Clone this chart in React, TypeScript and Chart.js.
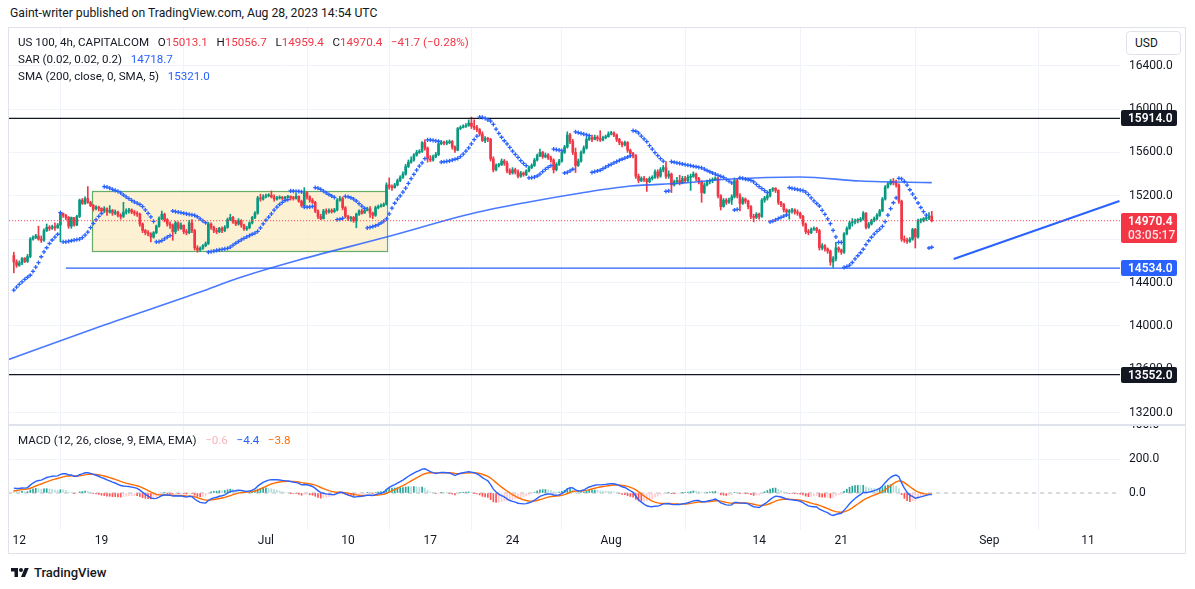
import React, { useEffect, useRef } from "react";
import { Chart, registerables } from "chart.js";

Chart.register(...registerables);

const FONT = "Roboto, 'Noto Sans', sans-serif";

// ---------- candle data (US 100, 4h, CAPITALCOM) ----------
const firstOpen = 14650;
const closes = [
  14590, 14560,
  14580, 14625, 14595, 14640, 14800, 14815,
  14830, 14800, 14790, 14880, 14910, 14900,
  14915, 14905, 14930, 15040, 15020, 15000,
  14920, 15000, 14930, 15010, 15160, 15130,
  15175, 15140, 15110, 15080, 15095, 15085,
  15060, 15080, 15050, 15065, 15040, 15050,
  15020, 15010, 15050, 15060, 15070, 15050,
  15040, 15030, 14940, 14880, 14860, 14850,
  14820, 14860, 14920, 14990, 15030, 14980,
  14940, 14930, 14870, 14950, 14900, 14930,
  14870, 14860, 14950, 14880, 14720, 14700,
  14715, 14740, 14760, 14940, 14910, 14880,
  14870, 14900, 14880, 14910, 14980, 15000,
  14960, 14940, 14970, 14930, 14895, 14905,
  14950, 15000, 15040, 15180, 15170, 15190,
  15200, 15205, 15190, 15170, 15180, 15185,
  15175, 15185, 15195, 15180, 15175, 15195,
  15150, 15110, 15230, 15190, 15160, 15140,
  15060, 15010, 14990, 15060, 15050, 15065,
  15055, 15070, 15160, 15175, 15090, 15010,
  14990, 15000, 14970, 15030, 15060, 15040,
  15065, 15080, 15040, 15020, 15090, 15100,
  15110, 15120, 15300, 15280, 15275, 15300,
  15340, 15370, 15400, 15470, 15510, 15530,
  15575, 15600, 15610, 15690, 15640, 15540,
  15530, 15560, 15580, 15680, 15695, 15685,
  15690, 15700, 15650, 15620, 15820, 15830,
  15840, 15850, 15870, 15840, 15830, 15810,
  15770, 15710, 15730, 15720, 15540, 15440,
  15480, 15485, 15520, 15500, 15430, 15410,
  15440, 15420, 15380, 15410, 15395, 15430,
  15460, 15480, 15530, 15570, 15600, 15560,
  15575, 15550, 15530, 15440, 15490, 15520,
  15600, 15650, 15760, 15700, 15600, 15480,
  15520, 15600, 15640, 15720, 15735, 15720,
  15740, 15725, 15715, 15735, 15745, 15770,
  15780, 15760, 15720, 15690, 15670, 15690,
  15620, 15590, 15570, 15380, 15340, 15360,
  15350, 15330, 15360, 15370, 15420, 15380,
  15440, 15460, 15380, 15400, 15300, 15330,
  15340, 15320, 15360, 15340, 15370, 15380,
  15400, 15360, 15330, 15230, 15300, 15330,
  15340, 15350, 15360, 15200, 15100, 15160,
  15140, 15160, 15190, 15340, 15200, 15130,
  15170, 15150, 15100, 15010, 15000, 15030,
  15010, 15160, 15180, 15200, 15260, 15270,
  15250, 15140, 15120, 15070, 15050, 15060,
  15070, 15050, 15040, 15010, 14940, 14870,
  14860, 14890, 14900, 14880, 14720, 14740,
  14710, 14690, 14590, 14620, 14720, 14700,
  14680, 14850, 14900, 14950, 14960, 14970,
  14975, 14985, 15040, 14910, 14940, 14970,
  14990, 15020, 15060, 15170, 15280, 15310,
  15335, 15320, 15300, 15150, 14800, 14790,
  14780, 14800, 14890, 14820, 14970, 14975,
  14990, 14995, 15013.1, 14970.4,
];
const highs = [
  14680, 14610,
  14600, 14630, 14630, 14660, 14815, 14830,
  14845, 14920, 14830, 14895, 14940, 14925,
  14930, 14950, 14945, 15045, 15040, 15030,
  15010, 15005, 15000, 15020, 15170, 15175,
  15190, 15285, 15150, 15120, 15110, 15105,
  15090, 15100, 15090, 15110, 15075, 15070,
  15060, 15035, 15140, 15080, 15085, 15080,
  15065, 15055, 15040, 14950, 14890, 14880,
  14860, 14870, 14930, 15005, 15060, 15040,
  14990, 14960, 14940, 14965, 14960, 14950,
  14930, 14890, 14975, 14980, 14890, 14740,
  14730, 14750, 14775, 14955, 14950, 14920,
  14900, 14910, 14915, 14925, 14995, 15030,
  15010, 14975, 14990, 14980, 14940, 14920,
  14960, 15010, 15055, 15195, 15215, 15210,
  15215, 15220, 15245, 15210, 15195, 15200,
  15195, 15195, 15205, 15200, 15195, 15220,
  15200, 15160, 15275, 15240, 15200, 15175,
  15150, 15070, 15030, 15075, 15080, 15080,
  15080, 15085, 15175, 15195, 15190, 15100,
  15020, 15010, 15010, 15040, 15070, 15075,
  15080, 15095, 15100, 15050, 15105, 15115,
  15125, 15135, 15320, 15365, 15300, 15315,
  15355, 15385, 15420, 15490, 15530, 15560,
  15590, 15620, 15625, 15700, 15715, 15650,
  15570, 15575, 15600, 15695, 15710, 15705,
  15710, 15715, 15710, 15660, 15830, 15845,
  15855, 15865, 15900, 15926, 15900, 15850,
  15820, 15790, 15745, 15740, 15730, 15560,
  15495, 15500, 15540, 15535, 15520, 15450,
  15460, 15455, 15440, 15425, 15420, 15440,
  15475, 15495, 15545, 15585, 15630, 15610,
  15595, 15590, 15565, 15540, 15505, 15535,
  15615, 15665, 15790, 15775, 15720, 15640,
  15540, 15615, 15660, 15740, 15750, 15760,
  15760, 15755, 15800, 15750, 15760, 15790,
  15795, 15790, 15770, 15730, 15700, 15705,
  15700, 15630, 15600, 15580, 15400, 15375,
  15380, 15360, 15375, 15385, 15440, 15440,
  15460, 15480, 15515, 15430, 15410, 15345,
  15370, 15390, 15380, 15380, 15390, 15400,
  15420, 15410, 15370, 15340, 15320, 15345,
  15355, 15365, 15375, 15370, 15210, 15175,
  15175, 15180, 15210, 15365, 15360, 15220,
  15185, 15180, 15160, 15110, 15030, 15045,
  15040, 15175, 15195, 15215, 15260, 15275,
  15275, 15255, 15150, 15130, 15080, 15075,
  15085, 15080, 15070, 15050, 15020, 14950,
  14890, 14905, 14915, 14910, 14890, 14760,
  14750, 14720, 14700, 14640, 14770, 14730,
  14710, 14860, 14915, 14965, 14990, 14985,
  14990, 15000, 15055, 15045, 14955, 14985,
  15005, 15035, 15075, 15185, 15295, 15325,
  15350, 15360, 15345, 15310, 15160, 14830,
  14810, 14815, 14900, 14900, 14985, 14990,
  15000, 15010, 15045, 15056.7,
];
const lows = [
  14490, 14540,
  14550, 14565, 14585, 14585, 14630, 14790,
  14805, 14790, 14770, 14780, 14870, 14880,
  14890, 14880, 14900, 14775, 15000, 14980,
  14900, 14900, 14920, 14925, 15000, 15120,
  15120, 15130, 15100, 15060, 15070, 15060,
  15040, 15045, 15020, 15040, 15020, 15025,
  15005, 14985, 15000, 15030, 15040, 15035,
  15020, 15010, 14920, 14860, 14840, 14830,
  14775, 14810, 14850, 14910, 14980, 14960,
  14920, 14900, 14790, 14850, 14880, 14890,
  14850, 14840, 14850, 14860, 14700, 14680,
  14690, 14705, 14730, 14750, 14890, 14860,
  14850, 14860, 14860, 14870, 14900, 14970,
  14945, 14925, 14930, 14910, 14880, 14880,
  14895, 14940, 14990, 15030, 15150, 15160,
  15180, 15190, 15180, 15150, 15160, 15170,
  15165, 15170, 15180, 15160, 15160, 15170,
  15140, 15095, 15100, 15170, 15140, 15130,
  15045, 14990, 14980, 14985, 15030, 15040,
  15040, 15045, 15060, 15150, 15070, 14995,
  14970, 14965, 14955, 14905, 15020, 15030,
  15040, 15060, 15000, 14990, 15010, 15080,
  15095, 15100, 15115, 15260, 15250, 15270,
  15290, 15330, 15360, 15390, 15460, 15500,
  15520, 15565, 15590, 15600, 15620, 15510,
  15515, 15520, 15550, 15570, 15670, 15670,
  15670, 15680, 15630, 15600, 15615, 15810,
  15825, 15830, 15840, 15820, 15810, 15790,
  15750, 15700, 15690, 15700, 15520, 15420,
  15430, 15465, 15480, 15480, 15410, 15395,
  15400, 15400, 15365, 15370, 15380, 15385,
  15420, 15450, 15470, 15520, 15560, 15545,
  15550, 15535, 15510, 15410, 15430, 15480,
  15510, 15590, 15640, 15680, 15580, 15415,
  15470, 15510, 15590, 15630, 15710, 15700,
  15715, 15705, 15700, 15705, 15725, 15740,
  15760, 15745, 15700, 15670, 15650, 15660,
  15600, 15570, 15550, 15360, 15320, 15330,
  15330, 15240, 15320, 15345, 15360, 15360,
  15370, 15420, 15360, 15360, 15230, 15290,
  15310, 15300, 15310, 15320, 15330, 15250,
  15370, 15340, 15310, 15140, 15220, 15290,
  15310, 15320, 15340, 15180, 15069, 15095,
  15120, 15130, 15120, 15180, 15180, 15060,
  15120, 15130, 15080, 14990, 14960, 14990,
  14985, 15000, 15140, 15160, 15190, 15240,
  15230, 15120, 15100, 15050, 15030, 14985,
  15040, 15030, 15020, 14990, 14920, 14850,
  14840, 14850, 14880, 14860, 14700, 14700,
  14690, 14670, 14560, 14540, 14600, 14680,
  14660, 14670, 14840, 14890, 14920, 14940,
  14950, 14960, 14975, 14895, 14900, 14930,
  14960, 14980, 15010, 15055, 15160, 15270,
  15300, 15300, 15280, 15130, 14780, 14770,
  14760, 14770, 14790, 14719, 14810, 14950,
  14960, 14970, 14980, 14959.4,
];

// ---------- axes ----------
const dateTickBars = [2, 32, 92, 122, 152, 182, 218, 272, 302, 356, 392];
const dateTickLabels = ["12", "19", "Jul", "10", "17", "24", "Aug", "14", "21", "Sep", "11"];
const priceTicks = [13200, 13600, 14000, 14400, 14800, 15200, 15600, 16000, 16400];
const macdTicks = [0, 200, 400];
const priceRange = [13087.4, 16746.6];
const macdRange = [-217.6, 400];
const barRange = [-1.76, 403.7];

// ---------- SMA 200 ----------
const smaBars = [-3, 32, 68, 82, 104, 136, 168, 188, 207, 225, 243, 262, 287, 309, 335];
const smaValues = [13680, 14000, 14313, 14442, 14608, 14820, 15041, 15143, 15226, 15290, 15315, 15355, 15373, 15336, 15321];

// ---------- drawings ----------
const resistanceTop = 15914.0;
const supportMid = 14534.0;
const supportLow = 13552.0;
const lastPrice = 14970.4;
const countdown = "03:05:17";
const midLineStartBar = 19;
const boxBars = [28.5, 136];
const boxPrices = [15244, 14691];
const trendBars = [343, 403.5];
const trendPrices = [14617, 15152];

// ---------- indicator settings ----------
const sarParams = [0.02, 0.02, 0.2];
const sarSeed = { sar: 14330, ep: 14680, af: 0.08 };
const macdSeeds = { fast: 14561, slow: 14532, signal: 12 };

const UP = "#089981";
const DOWN = "#f23645";
const BLUE = "#2962ff";
const ORANGE = "#ff6d00";
const GRID = "#f0f3fa";
const TEXT = "#131722";

const opens = closes.map((c, i) => (i === 0 ? firstOpen : closes[i - 1]));

function parabolicSar(h: number[], l: number[]) {
  const [start, inc, max] = sarParams;
  const out: number[] = [];
  let sar = sarSeed.sar;
  let ep = sarSeed.ep;
  let af = sarSeed.af;
  let below = true;
  out.push(sar);
  for (let i = 1; i < h.length; i++) {
    let first = false;
    sar = sar + af * (ep - sar);
    if (below) {
      if (sar > l[i]) {
        first = true;
        below = false;
        sar = Math.max(h[i], ep);
        ep = l[i];
        af = start;
      }
    } else if (sar < h[i]) {
      first = true;
      below = true;
      sar = Math.min(l[i], ep);
      ep = h[i];
      af = start;
    }
    if (!first) {
      if (below) {
        if (h[i] > ep) {
          ep = h[i];
          af = Math.min(af + inc, max);
        }
      } else if (l[i] < ep) {
        ep = l[i];
        af = Math.min(af + inc, max);
      }
    }
    if (below) {
      sar = Math.min(sar, l[i - 1]);
      if (i > 1) sar = Math.min(sar, l[i - 2]);
    } else {
      sar = Math.max(sar, h[i - 1]);
      if (i > 1) sar = Math.max(sar, h[i - 2]);
    }
    out.push(sar);
  }
  return out;
}

function macdSeries(c: number[]) {
  let f = macdSeeds.fast;
  let s = macdSeeds.slow;
  let sg = macdSeeds.signal;
  const m: number[] = [];
  const sig: number[] = [];
  c.forEach((v, i) => {
    if (i > 0) {
      f += (2 / 13) * (v - f);
      s += (2 / 27) * (v - s);
    }
    const mv = f - s;
    if (i > 0) sg += 0.2 * (mv - sg);
    m.push(mv);
    sig.push(sg);
  });
  const hist = m.map((v, i) => v - sig[i]);
  return { m, sig, hist };
}

const badgePlugin = {
  id: "badges",
  afterDraw(chart: any) {
    const badges = chart.options.plugins.badges?.items;
    if (!badges) return;
    const { ctx, chartArea } = chart;
    const y = chart.scales.y;
    ctx.save();
    badges.forEach((b: any) => {
      const py = Math.round(y.getPixelForValue(b.value));
      const left = chartArea.right + 1;
      const h = b.sub ? 30 : 16;
      ctx.fillStyle = b.bg;
      ctx.beginPath();
      (ctx as any).roundRect(left, py - 8, 56, h, 2);
      ctx.fill();
      ctx.fillStyle = "#ffffff";
      ctx.font = `600 12px ${FONT}`;
      ctx.textBaseline = "middle";
      ctx.textAlign = "left";
      ctx.fillText(b.value.toFixed(1), left + 7, py + 0.5);
      if (b.sub) {
        ctx.fillStyle = "rgba(255,255,255,0.85)";
        ctx.font = `500 12px ${FONT}`;
        ctx.fillText(b.sub, left + 7, py + 14.5);
      }
    });
    ctx.restore();
  },
};

const boxPlugin = {
  id: "rangeBox",
  beforeDatasetsDraw(chart: any) {
    const opt = chart.options.plugins.rangeBox;
    if (!opt) return;
    const { ctx, chartArea } = chart;
    const xs = chart.scales.x;
    const ys = chart.scales.y;
    const x1 = xs.getPixelForValue(opt.bars[0]);
    const x2 = xs.getPixelForValue(opt.bars[1]);
    const y1 = ys.getPixelForValue(opt.prices[0]);
    const y2 = ys.getPixelForValue(opt.prices[1]);
    ctx.save();
    ctx.beginPath();
    ctx.rect(chartArea.left, chartArea.top, chartArea.right - chartArea.left, chartArea.bottom - chartArea.top);
    ctx.clip();
    ctx.fillStyle = "rgba(252, 236, 196, 0.75)";
    ctx.fillRect(x1, y1, x2 - x1, y2 - y1);
    ctx.strokeStyle = "rgba(76, 160, 80, 0.85)";
    ctx.lineWidth = 1.2;
    ctx.strokeRect(Math.round(x1) + 0.5, Math.round(y1) + 0.5, Math.round(x2 - x1), Math.round(y2 - y1));
    ctx.restore();
  },
};

function hLine(value: number, fromBar: number, color: string, width: number, dash: number[] = [], order = 5) {
  return {
    type: "line",
    data: [
      { x: fromBar, y: value },
      { x: 420, y: value },
    ],
    borderColor: color,
    borderWidth: width,
    borderDash: dash,
    pointRadius: 0,
    order,
  };
}

const noPad = (s: any) => {
  s.paddingTop = 0;
  s.paddingBottom = 0;
  s.paddingLeft = 0;
  s.paddingRight = 0;
};

export default function App() {
  const mainRef = useRef<HTMLCanvasElement>(null);
  const macdRef = useRef<HTMLCanvasElement>(null);

  useEffect(() => {
    const idx = closes.map((_, i) => i);
    const colors = idx.map((i) => (closes[i] >= opens[i] ? UP : DOWN));
    const sar = parabolicSar(highs, lows);
    const { m, sig, hist } = macdSeries(closes);
    const histColors = hist.map((v, i) => {
      const prev = i > 0 ? hist[i - 1] : v;
      if (v >= 0) return prev < v ? "#26a69a" : "#b2dfdb";
      return prev < v ? "#ffcdd2" : "#ff5252";
    });

    const xScale = (height0: boolean, showLabels: boolean) => ({
      type: "linear",
      min: barRange[0],
      max: barRange[1],
      offset: false,
      afterBuildTicks: (s: any) => {
        s.ticks = dateTickBars.map((v) => ({ value: v }));
      },
      afterFit: (s: any) => {
        s.height = height0 ? 0 : 23;
        noPad(s);
      },
      grid: { color: GRID, drawTicks: false, lineWidth: 1 },
      border: { display: false },
      ticks: {
        display: showLabels,
        autoSkip: false,
        maxRotation: 0,
        padding: 4,
        color: TEXT,
        font: { family: FONT, size: 12 },
        callback: (v: number) => {
          const k = dateTickBars.indexOf(v);
          return k >= 0 ? dateTickLabels[k] : "";
        },
      },
    });

    const yScale = (range: number[], ticks: number[], zeroHidden: boolean) => ({
      type: "linear",
      position: "right",
      min: range[0],
      max: range[1],
      afterBuildTicks: (s: any) => {
        s.ticks = ticks.map((v) => ({ value: v }));
      },
      afterFit: (s: any) => {
        s.width = 65;
        noPad(s);
      },
      grid: {
        color: (c: any) => (zeroHidden && c.tick && c.tick.value === 0 ? "rgba(0,0,0,0)" : GRID),
        drawTicks: false,
      },
      border: { display: false },
      ticks: {
        padding: 9,
        color: TEXT,
        font: { family: FONT, size: 12 },
        callback: (v: number) => v.toFixed(1),
      },
    });

    const mainChart = new Chart(mainRef.current!, {
      type: "bar",
      data: {
        datasets: [
          {
            type: "line",
            data: [
              { x: -5, y: lastPrice },
              { x: 420, y: lastPrice },
            ],
            borderColor: DOWN,
            borderWidth: 1,
            borderDash: [1, 2],
            pointRadius: 0,
            order: 1,
          } as any,
          {
            type: "line",
            data: trendBars.map((b, k) => ({ x: b, y: trendPrices[k] })),
            borderColor: BLUE,
            borderWidth: 2,
            pointRadius: 0,
            order: 2,
          },
          {
            type: "line",
            data: idx.map((i) => ({ x: i, y: sar[i] })),
            showLine: false,
            pointStyle: "cross",
            pointRadius: 2.1,
            pointBorderWidth: 1.3,
            pointBorderColor: BLUE,
            pointBackgroundColor: BLUE,
            order: 3,
          },
          {
            type: "line",
            data: smaBars.map((b, k) => ({ x: b, y: smaValues[k] })),
            borderColor: "rgba(41, 98, 255, 0.85)",
            borderWidth: 1.6,
            pointRadius: 0,
            cubicInterpolationMode: "monotone",
            order: 4,
          },
          hLine(resistanceTop, -5, TEXT, 1.4) as any,
          hLine(supportLow, -5, TEXT, 1.4) as any,
          hLine(supportMid, midLineStartBar, BLUE, 1.2) as any,
          {
            type: "bar",
            data: idx.map((i) => ({ x: i, y: [opens[i], closes[i]] })),
            backgroundColor: colors,
            barThickness: 2,
            minBarLength: 1,
            grouped: false,
            borderWidth: 0,
            order: 8,
          },
          {
            type: "bar",
            data: idx.map((i) => ({ x: i, y: [lows[i], highs[i]] })),
            backgroundColor: colors,
            barThickness: 1,
            grouped: false,
            borderWidth: 0,
            order: 9,
          },
        ],
      },
      options: {
        responsive: false,
        animation: false,
        events: [],
        layout: { padding: 0, autoPadding: false },
        plugins: {
          legend: { display: false },
          tooltip: { enabled: false },
          badges: {
            items: [
              { value: resistanceTop, bg: TEXT },
              { value: lastPrice, bg: DOWN, sub: countdown },
              { value: supportMid, bg: BLUE },
              { value: supportLow, bg: TEXT },
            ],
          },
          rangeBox: { bars: boxBars, prices: boxPrices },
        } as any,
        scales: {
          x: xScale(true, false) as any,
          y: yScale(priceRange, priceTicks, false) as any,
        },
      },
      plugins: [badgePlugin, boxPlugin],
    } as any);

    const macdChart = new Chart(macdRef.current!, {
      type: "bar",
      data: {
        datasets: [
          {
            type: "line",
            data: idx.map((i) => ({ x: i, y: m[i] })),
            borderColor: BLUE,
            borderWidth: 1.4,
            pointRadius: 0,
            order: 1,
          } as any,
          {
            type: "line",
            data: idx.map((i) => ({ x: i, y: sig[i] })),
            borderColor: ORANGE,
            borderWidth: 1.4,
            pointRadius: 0,
            order: 2,
          },
          hLine(0, -5, "rgba(120,123,134,0.55)", 1, [4, 4], 4) as any,
          {
            type: "bar",
            data: idx.map((i) => ({ x: i, y: hist[i] })),
            backgroundColor: histColors,
            barThickness: 1,
            grouped: false,
            borderWidth: 0,
            order: 3,
          },
        ],
      },
      options: {
        responsive: false,
        animation: false,
        events: [],
        layout: { padding: 0, autoPadding: false },
        plugins: { legend: { display: false }, tooltip: { enabled: false } },
        scales: {
          x: xScale(false, true) as any,
          y: yScale(macdRange, macdTicks, true) as any,
        },
      },
    } as any);

    return () => {
      mainChart.destroy();
      macdChart.destroy();
    };
  }, []);

  const abs = (s: React.CSSProperties): React.CSSProperties => ({ position: "absolute", ...s });
  const legendRow: React.CSSProperties = {
    position: "absolute",
    left: 18,
    fontSize: 11.6,
    lineHeight: "14px",
    color: TEXT,
    whiteSpace: "pre",
  };

  return (
    <div
      style={{
        position: "fixed",
        left: 0,
        top: 0,
        width: 1195,
        height: 589,
        background: "#ffffff",
        overflow: "hidden",
        fontFamily: FONT,
      }}
    >
      <div style={abs({ left: 10, top: 6, fontSize: 12.2, color: TEXT, whiteSpace: "pre" })}>
        Gaint-writer published on TradingView.com, Aug 28, 2023 14:54 UTC
      </div>
      <div
        style={abs({
          left: 8,
          top: 27,
          width: 1178,
          height: 527,
          border: "1px solid #e0e3eb",
          boxSizing: "border-box",
        })}
      />
      <canvas ref={mainRef} width={1176} height={397} style={abs({ left: 9, top: 28 })} />
      <canvas ref={macdRef} width={1176} height={128} style={abs({ left: 9, top: 425 })} />
      <div style={abs({ left: 9, top: 424, width: 1176, height: 2, background: "#e0e3eb" })} />

      <div style={{ ...legendRow, top: 35 }}>
        {"US 100, 4h, CAPITALCOM   O"}
        <span style={{ color: DOWN }}>15013.1</span>
        {"   H"}
        <span style={{ color: DOWN }}>15056.7</span>
        {"   L"}
        <span style={{ color: DOWN }}>14959.4</span>
        {"   C"}
        <span style={{ color: DOWN }}>14970.4</span>
        <span style={{ color: DOWN }}>{"   −41.7 (−0.28%)"}</span>
      </div>
      <div style={{ ...legendRow, top: 52 }}>
        {"SAR (0.02, 0.02, 0.2)   "}
        <span style={{ color: BLUE }}>14718.7</span>
      </div>
      <div style={{ ...legendRow, top: 69 }}>
        {"SMA (200, close, 0, SMA, 5)   "}
        <span style={{ color: BLUE }}>15321.0</span>
      </div>
      <div style={{ ...legendRow, top: 433 }}>
        {"MACD (12, 26, close, 9, EMA, EMA)   "}
        <span style={{ color: "#f9b4bb" }}>−0.6</span>
        {"   "}
        <span style={{ color: BLUE }}>−4.4</span>
        {"   "}
        <span style={{ color: ORANGE }}>−3.8</span>
      </div>

      <div
        style={abs({
          left: 1126,
          top: 31,
          width: 55,
          height: 24,
          border: "1px solid #e0e3eb",
          borderRadius: 4,
          boxSizing: "border-box",
          background: "#ffffff",
          fontSize: 12,
          color: TEXT,
          lineHeight: "22px",
          paddingLeft: 8,
        })}
      >
        USD
      </div>

      <div style={abs({ left: 10, top: 565, display: "flex", alignItems: "center", gap: 4 })}>
        <svg width="20" height="14" viewBox="0 0 36 28">
          <path d="M14 22H7V11H0V4h14v18zM28 22h-8l7.5-18h8L28 22z" fill={TEXT} />
          <circle cx="20" cy="8" r="4" fill={TEXT} />
        </svg>
        <span style={{ fontSize: 13, fontWeight: 500, color: TEXT }}>TradingView</span>
      </div>
    </div>
  );
}
